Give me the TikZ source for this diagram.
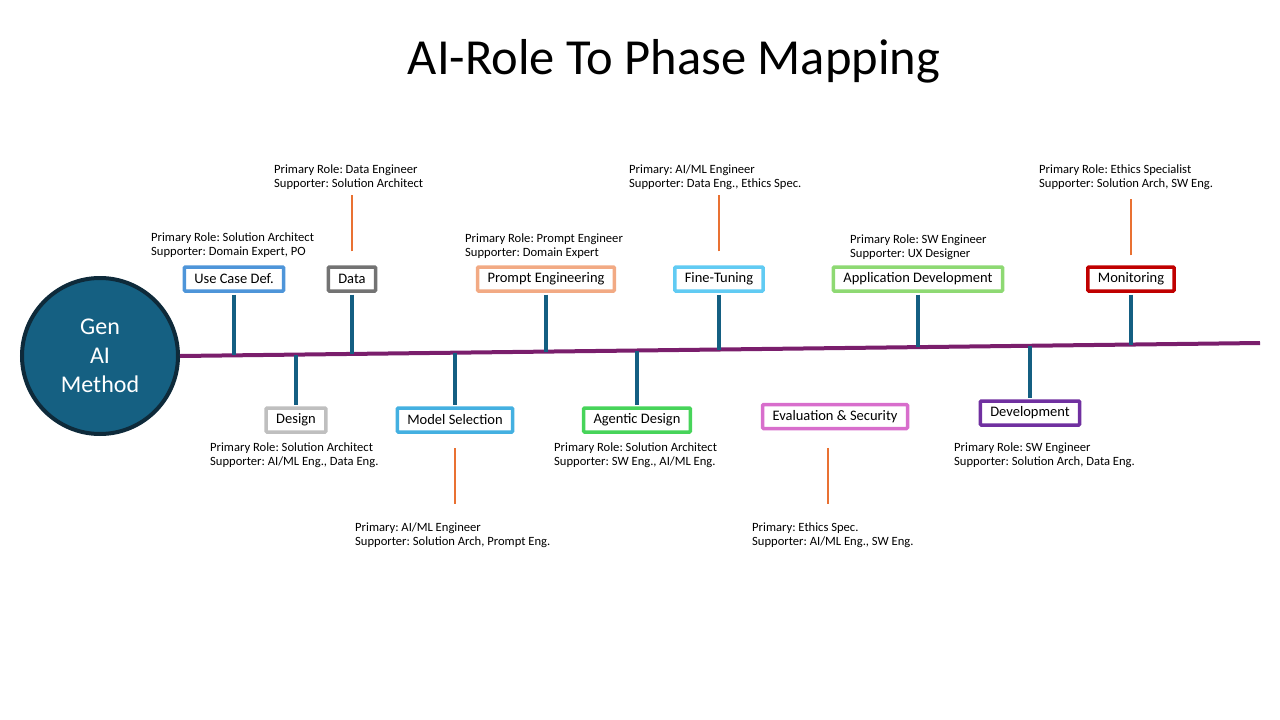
\documentclass[tikz,border=0pt]{standalone}
\usepackage{fontspec}
\setmainfont{Carlito}
\usetikzlibrary{calc}
\definecolor{genfill}{HTML}{156082}
\definecolor{genline}{HTML}{0E2A3A}
\definecolor{tline}{HTML}{7A1E6C}
\definecolor{stemc}{HTML}{145F82}
\definecolor{tickc}{HTML}{E97132}
\definecolor{ucc}{HTML}{4E95D9}
\definecolor{dac}{HTML}{737373}
\definecolor{pec}{HTML}{F2AA84}
\definecolor{ftc}{HTML}{61CBF3}
\definecolor{adc}{HTML}{8ED973}
\definecolor{moc}{HTML}{C00000}
\definecolor{dec}{HTML}{BFBFBF}
\definecolor{msc}{HTML}{44B0E1}
\definecolor{agc}{HTML}{47D45A}
\definecolor{evc}{HTML}{D86ECC}
\definecolor{dvc}{HTML}{7030A0}

\begin{document}
\frenchspacing
\begin{tikzpicture}[x=1pt,y=-1pt,
  phase/.style={draw, line width=3.5pt, rounded corners=1pt, fill=white, inner xsep=10pt, inner ysep=3pt, minimum height=24pt, font=\fontsize{14.5}{16}\selectfont},
  role/.style={anchor=west, align=left, inner sep=0pt, font=\fontsize{12.6}{14}\selectfont},
  stemline/.style={stemc, line width=4pt, shorten <=1.75pt},
  tickline/.style={tickc, line width=2pt}]
\useasboundingbox (0,0) rectangle (1280,720);
\node[font=\fontsize{50.5}{60}\selectfont] (title) at (674,61) {AI-Role To Phase Mapping};
\node[circle, draw=genline, fill=genfill, line width=4pt, minimum size=156pt, text=white, align=center, font=\fontsize{24}{29}\selectfont] (gen) at (100,356) {Gen\\AI\\Method};
\coordinate (tlE) at (1260,343);
\draw[tline, line width=4pt] (gen.east) -- (tlE);

\node[phase, draw=ucc] (uc) at (234,279) {Use Case Def.};
\node[phase, draw=dac] (da) at (352,279) {Data};
\node[phase, draw=pec] (pe) at (546,279) {Prompt Engineering};
\node[phase, draw=ftc] (ft) at (719,279) {Fine-Tuning};
\node[phase, draw=adc] (ad) at (918,279) {Application Development};
\node[phase, draw=moc] (mo) at (1131,279) {Monitoring};
\node[phase, draw=dec] (de) at (296,420) {Design};
\node[phase, draw=msc] (ms) at (455,420) {Model Selection};
\node[phase, draw=agc] (ag) at (637,420) {Agentic Design};
\node[phase, draw=evc] (ev) at (835,416.5) {Evaluation \& Security};
\node[phase, draw=dvc] (dv) at (1030,413) {Development};

\foreach \n in {uc,da,pe,ft,ad,mo} {
  \path ($(gen.east)!(\n.south)!(tlE)$) coordinate (p\n);
  \draw[stemline] (\n.south) -- (\n.south |- p\n);
}
\foreach \n in {de,ms,ag,dv} {
  \path ($(gen.east)!(\n.north)!(tlE)$) coordinate (p\n);
  \draw[stemline] (\n.north) -- (\n.north |- p\n);
}

\draw[tickline] ($(da.north)+(0,-14)$) -- ++(0,-56);
\draw[tickline] ($(ft.north)+(0,-14)$) -- ++(0,-56);
\draw[tickline] ($(mo.north)+(0,-10)$) -- ++(0,-56);
\draw[tickline] ($(ms.south)+(0,14.5)$) -- ++(0,56);
\draw[tickline] ($(ev.south)+(-7,17.5)$) -- ++(0,56);

\node[role] (ucr) at (151,245) {Primary Role: Solution Architect\\Supporter: Domain Expert, PO};
\node[role] (dar) at (274,177) {Primary Role: Data Engineer\\Supporter: Solution Architect};
\node[role] (per) at (465,246) {Primary Role: Prompt Engineer\\Supporter: Domain Expert};
\node[role] (ftr) at (629,177) {Primary: AI/ML Engineer\\Supporter: Data Eng., Ethics Spec.};
\node[role] (adr) at (850,247) {Primary Role: SW Engineer\\Supporter: UX Designer};
\node[role] (mor) at (1039,177) {Primary Role: Ethics Specialist\\Supporter: Solution Arch, SW Eng.};
\node[role] (der) at (210,455) {Primary Role: Solution Architect\\Supporter: AI/ML Eng., Data Eng.};
\node[role] (msr) at (355,535) {Primary: AI/ML Engineer\\Supporter: Solution Arch, Prompt Eng.};
\node[role] (agr) at (554,455) {Primary Role: Solution Architect\\Supporter: SW Eng., AI/ML Eng.};
\node[role] (evr) at (752,535) {Primary: Ethics Spec.\\Supporter: AI/ML Eng., SW Eng.};
\node[role] (dvr) at (954,455) {Primary Role: SW Engineer\\Supporter: Solution Arch, Data Eng.};
\end{tikzpicture}
\end{document}
